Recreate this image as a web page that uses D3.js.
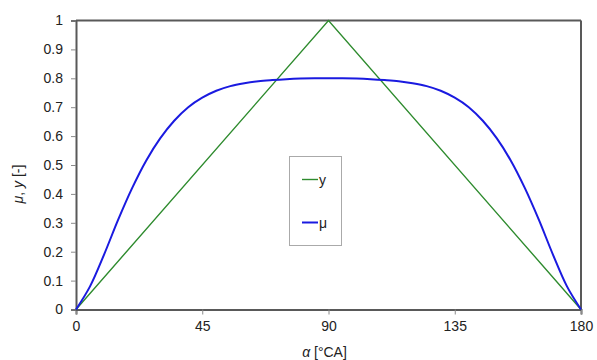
<!DOCTYPE html>
<html><head><meta charset="utf-8">
<script src="https://cdn.jsdelivr.net/npm/d3@7"></script>
<style>body{margin:0;background:#fff}svg{display:block}text{font-family:"Liberation Sans",Arial,sans-serif}</style>
</head><body>
<svg id="c" width="597" height="360"></svg>
<script>
const alpha = [0,5,10,15,20,25,30,35,40,45,50,55,60,65,70,75,80,85,90,95,100,105,110,115,120,125,130,135,140,145,150,155,160,165,170,175,180];
const muValues = [0,0.08,0.19,0.31,0.42,0.515,0.592,0.653,0.70,0.733,0.757,0.773,0.783,0.79,0.794,0.797,0.799,0.80,0.80,0.80,0.799,0.797,0.794,0.79,0.783,0.773,0.757,0.733,0.70,0.653,0.592,0.515,0.42,0.31,0.19,0.08,0];
const yAlpha = [0,90,180];
const yValues = [0,1,0];
const xTicks = [0,45,90,135,180];
const yTicks = [0,0.1,0.2,0.3,0.4,0.5,0.6,0.7,0.8,0.9,1];

const svg = d3.select("#c");
const L=76,R=581,T=20.5,B=309.5;
const x = d3.scaleLinear().domain([0,180]).range([L,R]);
const y = d3.scaleLinear().domain([0,1]).range([B,T]);
const axisColor="#595959";

svg.append("line").attr("x1",L).attr("x2",R).attr("y1",T).attr("y2",T).attr("stroke",axisColor).attr("stroke-width",2);
svg.append("line").attr("x1",R).attr("x2",R).attr("y1",T).attr("y2",B).attr("stroke",axisColor).attr("stroke-width",2);

const gx = svg.append("g").attr("transform",`translate(0,${B})`)
  .call(d3.axisBottom(x).tickValues(xTicks).tickSize(5).tickPadding(7).tickFormat(d3.format("d")));
const gy = svg.append("g").attr("transform",`translate(${L},0)`)
  .call(d3.axisLeft(y).tickValues(yTicks).tickSize(5).tickPadding(8).tickFormat(d=>d3.format("")(+d.toFixed(1))));
[gx,gy].forEach(g=>{
  g.select(".domain").attr("stroke",axisColor).attr("stroke-width",2);
  g.selectAll(".tick line").attr("stroke","#8a8a8a");
  g.selectAll(".tick text").attr("fill","#222").style("font-size","14px");
});

const lineG = d3.line().x((d,i)=>x(yAlpha[i])).y(d=>y(d));
svg.append("path").attr("d",lineG(yValues)).attr("fill","none").attr("stroke","#2e8b2e").attr("stroke-width",1.4);
const lineM = d3.line().x((d,i)=>x(alpha[i])).y(d=>y(d)).curve(d3.curveCatmullRom.alpha(0.5));
svg.append("path").attr("d",lineM(muValues)).attr("fill","none").attr("stroke","#1a1ae0").attr("stroke-width",2);

svg.append("rect").attr("x",289.5).attr("y",156.5).attr("width",52).attr("height",89).attr("fill","#fff").attr("stroke","#aaa").attr("stroke-width",1);
svg.append("line").attr("x1",302).attr("x2",318).attr("y1",179.5).attr("y2",179.5).attr("stroke","#2e8b2e").attr("stroke-width",1.4);
svg.append("text").attr("x",319).attr("y",185).text("y").style("font-size","14px").attr("fill","#222");
svg.append("line").attr("x1",302).attr("x2",318).attr("y1",222.5).attr("y2",222.5).attr("stroke","#1a1ae0").attr("stroke-width",2);
svg.append("text").attr("x",319).attr("y",228).text("μ").style("font-size","14px").attr("fill","#222");

const xt = svg.append("text").attr("x",(L+R)/2 - 4).attr("y",357).attr("text-anchor","middle").style("font-size","14px").attr("fill","#222");
xt.append("tspan").attr("font-style","italic").text("α");
xt.append("tspan").text(" [°CA]");
const yt = svg.append("text").attr("transform","translate(23,184) rotate(-90)").attr("text-anchor","middle").style("font-size","14px").attr("fill","#222");
yt.append("tspan").attr("font-style","italic").text("μ");
yt.append("tspan").text(", ");
yt.append("tspan").attr("font-style","italic").text("y");
yt.append("tspan").text(" [-]");
</script>
</body></html>
